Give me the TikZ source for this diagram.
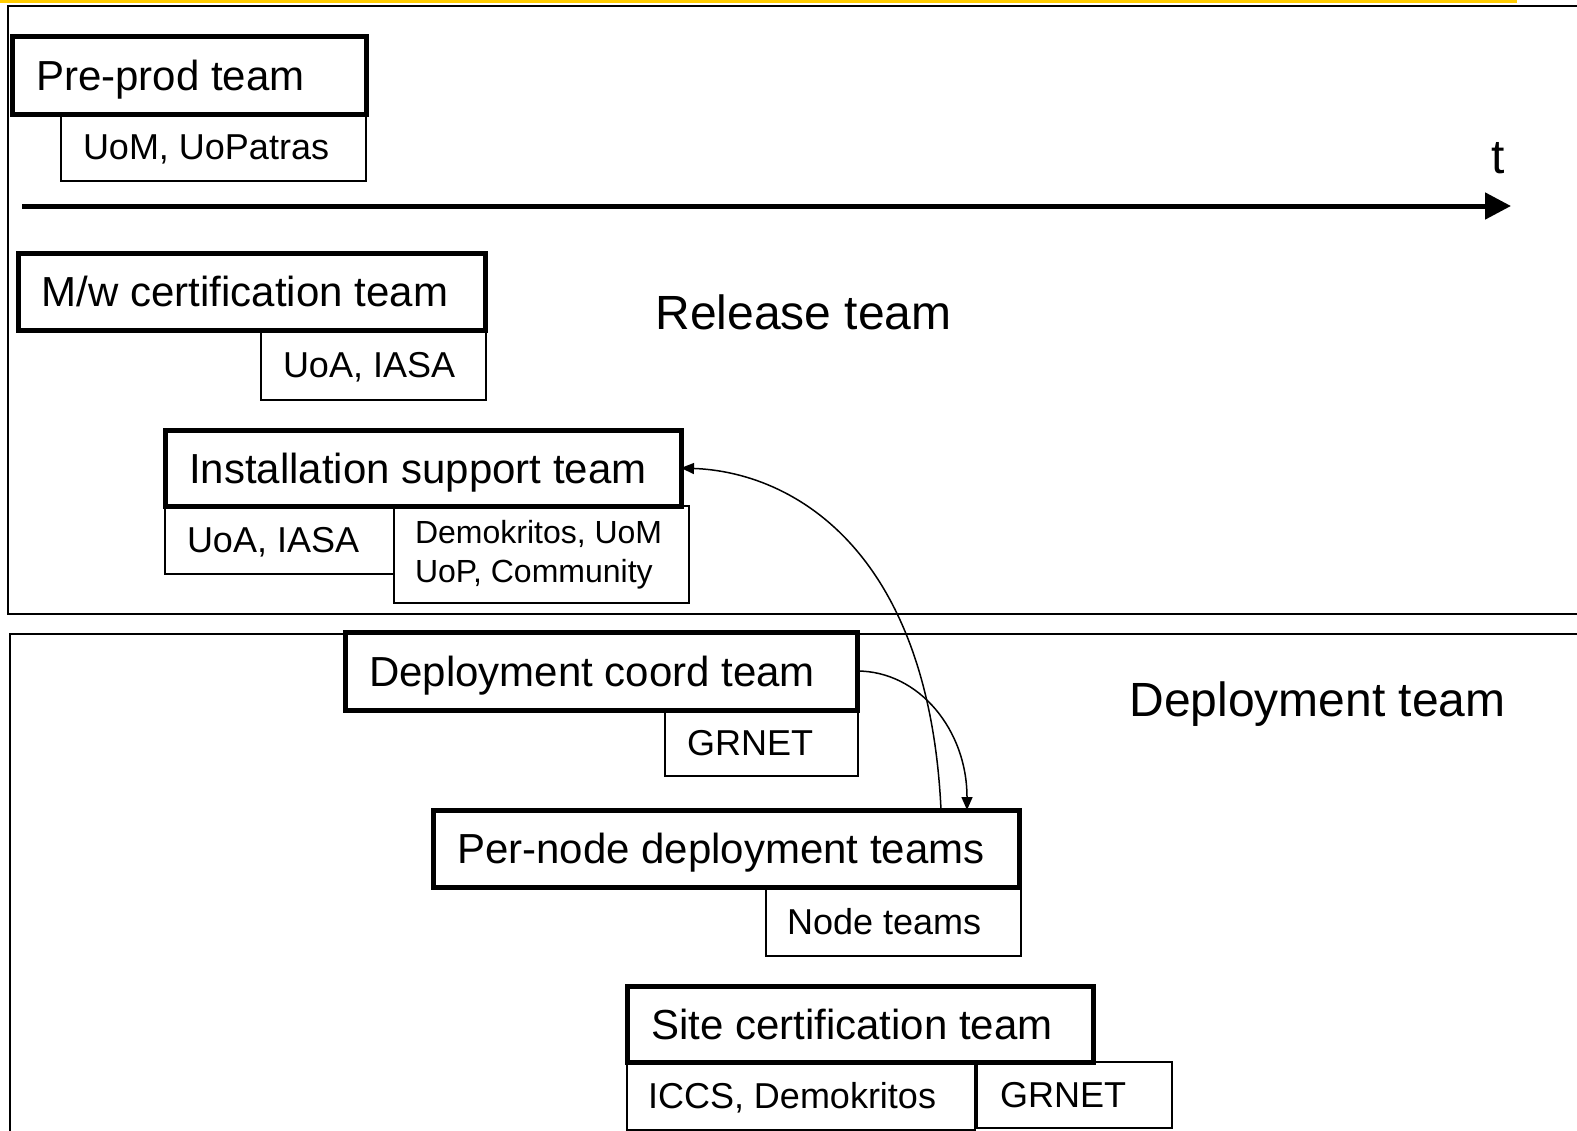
\documentclass[tikz,border=0pt]{standalone}
\usepackage{fontspec}
\setmainfont{Liberation Sans}
\usetikzlibrary{arrows.meta,calc}
\definecolor{gold}{HTML}{FFCC00}
\newcommand\padbox[3]{\makebox[#1][l]{\hspace*{#2}#3}}
\begin{document}
\begin{tikzpicture}[x=0.5pt,y=-0.5pt,
  big/.style={font=\fontsize{21}{25}\selectfont},
  small/.style={font=\fontsize{18}{21}\selectfont},
  tbox/.style={draw, line width=2.5pt, anchor=north west, inner sep=0pt, outer sep=0pt, text height=15pt, text depth=0pt, fill=white, big},
  sbox/.style={draw, line width=1pt, anchor=north west, inner sep=0pt, outer sep=0pt, text height=12.9pt, text depth=0pt, fill=white, small},
  lbl/.style={font=\fontsize{24}{28}\selectfont, inner sep=0pt, text height=17.2pt, text depth=0pt, anchor=west},
  frame/.style={line width=1pt},
  link/.style={line width=0.75pt, -{Triangle[length=6.5pt,width=5.5pt]}}
]
\useasboundingbox (0,0) rectangle (1577,1130);
\fill[gold] (0,0) rectangle (1517,3);
% frames
\draw[frame] (1580,6) -- (8,6) -- (8,614) -- (1580,614);
\draw[frame] (1580,634) -- (10,634) -- (10,1135);
% timeline
\coordinate (t0) at (22,206);
\coordinate (t1) at (1511,206);
\draw[line width=2.5pt, -{Triangle[length=13pt,width=13pt]}] (t0) -- (t1);
\node[font=\fontsize{24}{28}\selectfont, anchor=base, inner sep=0pt] (tl) at (1498,173) {t};
% labels
\node[lbl] (rel) at (655,312) {Release team};
\node[lbl] (dep) at (1129,699) {Deployment team};
% thin boxes
\node[sbox, minimum height=34pt] (uom) at (61,113) {\padbox{152.5pt}{11pt}{UoM, UoPatras}};
\node[sbox, minimum height=35pt] (uoa1) at (261,330) {\padbox{112.5pt}{11pt}{UoA, IASA}};
\node[sbox, minimum height=34pt] (uoa2) at (165,506) {\padbox{114.5pt}{11pt}{UoA, IASA}};
\node[draw, line width=1pt, anchor=north west, inner sep=0pt, outer sep=0pt, fill=white, minimum height=48.5pt, font=\fontsize{16}{19.5}\selectfont] (dk) at (394,506) {\makebox[147.5pt][l]{\hspace*{10.5pt}\parbox{135pt}{Demokritos, UoM\\UoP, Community}}};
\node[sbox, minimum height=33pt] (gr1) at (665,710) {\padbox{96.5pt}{11pt}{GRNET}};
\node[sbox, minimum height=34.5pt] (nt) at (766,887) {\padbox{127.5pt}{10.5pt}{Node teams}};
\node[sbox, minimum height=34pt] (iccs) at (627,1062) {\padbox{174pt}{10.5pt}{ICCS, Demokritos}};
\node[sbox, minimum height=33pt] (gr2) at (977,1062) {\padbox{97.5pt}{11.5pt}{GRNET}};
% thick boxes
\node[tbox, minimum height=39pt] (pp) at (12,36) {\padbox{177pt}{12pt}{Pre-prod team}};
\node[tbox, minimum height=38.5pt] (mw) at (18,253) {\padbox{233.5pt}{12pt}{M/w certification team}};
\node[tbox, minimum height=38pt] (inst) at (165,430) {\padbox{258pt}{12pt}{Installation support team}};
\node[tbox, minimum height=39pt] (dc) at (345,632) {\padbox{256pt}{12pt}{Deployment coord team}};
\node[tbox, minimum height=38.5pt] (pn) at (433,810) {\padbox{293pt}{12pt}{Per-node deployment teams}};
\node[tbox, minimum height=38pt] (sc) at (627,986) {\padbox{233pt}{12pt}{Site certification team}};
% connectors
\draw[link] ([xshift=-39pt]pn.north east) .. controls +(-12,-260) and +(112,4) .. (inst.east);
\draw[link] (dc.east) .. controls +(62,0) and +(0,-80) .. ([xshift=-26pt]pn.north east);
\end{tikzpicture}
\end{document}
